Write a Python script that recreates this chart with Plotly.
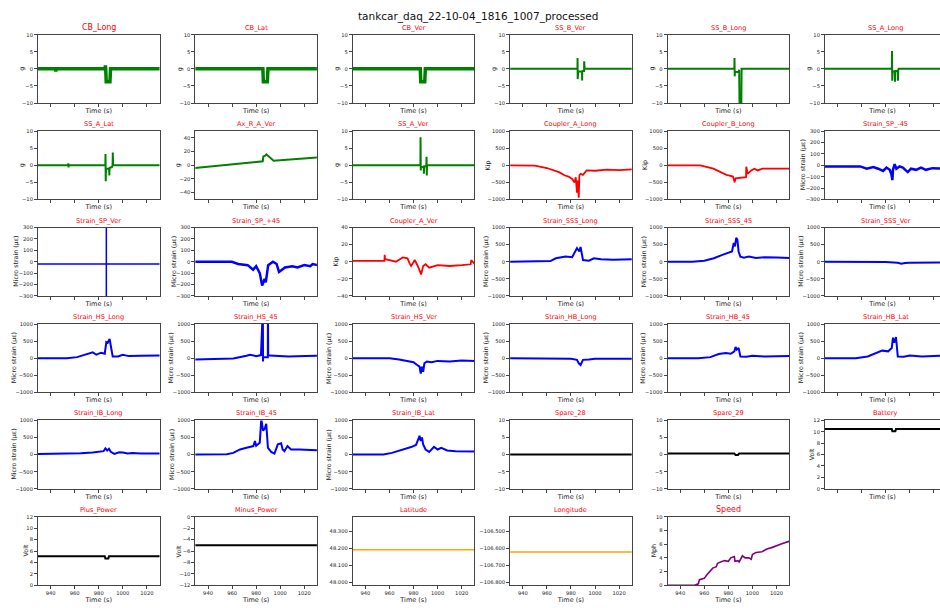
import plotly.graph_objects as go

# ---------------- data (time in s) ----------------
T_CB_LONG = [929, 944, 944.3, 944.6, 985.3, 985.5, 985.8, 986.2, 989.3, 989.8, 1031]
V_CB_LONG = [0, 0, -0.8, 0, 0, 1.0, 0, -3.8, -3.8, 0, 0]
T_CB_LAT = [929, 985.6, 986.0, 989.3, 989.8, 1031]
V_CB_LAT = [0, 0, -3.8, -3.8, 0, 0]
T_CB_VER = [929, 985.6, 986.0, 989.3, 989.8, 1031]
V_CB_VER = [0, 0, -3.8, -3.8, 0, 0]
T_SS_B_VER = [929, 985.4, 985.5, 985.6, 985.7, 986, 989.2, 989.3, 989.4, 989.6, 990.9, 991.0, 991.2, 991.4, 1031]
V_SS_B_VER = [0, 0, 3.2, -3.0, -0.7, -0.8, -0.8, -3.4, -0.5, -0.6, -0.6, 2.2, -0.3, 0, 0]
T_SS_B_LONG = [929, 985.0, 985.1, 985.3, 985.5, 988.5, 989.0, 989.3, 990.8, 991.0, 1031]
V_SS_B_LONG = [0, 0, 3.2, -2.2, -0.8, -1.0, -0.3, -10.5, -10.5, 0, 0]
T_SS_A_LONG = [929, 985.1, 985.2, 985.4, 985.6, 987.5, 987.7, 987.9, 990.0, 990.2, 990.4, 990.8, 1031]
V_SS_A_LONG = [0, 0, 5.2, -3.5, -0.8, -0.8, -3.8, -0.6, -0.6, -3.5, -0.2, 0, 0]

T_SS_A_LAT = [929, 954.6, 954.7, 954.9, 955.0, 985.5, 985.6, 985.8, 986.0, 988.6, 988.8, 989.0, 991.0, 991.5, 991.7, 991.9, 1031]
V_SS_A_LAT = [0, 0, 0.6, -0.6, 0, 0, 3.3, -4.7, -1.0, -1.0, -3.0, -0.8, -0.5, 0, 3.7, 0, 0]
T_AX_R_A_VER = [929, 985.5, 986.0, 987.5, 988.5, 990.0, 994.5, 1031]
V_AX_R_A_VER = [-4, 5.8, 13.0, 14.0, 16.0, 13.5, 6.5, 11.5]
T_SS_A_VER = [929, 985.7, 985.8, 986.0, 986.2, 988.5, 988.6, 988.8, 990.6, 990.8, 991.0, 991.2, 1031]
V_SS_A_VER = [0, 0, 8.2, -1.5, -0.5, -0.5, -2.5, -0.3, -0.3, 2.5, -3.0, 0, 0]
T_COUPLER_A_LONG = [929, 950, 960, 965, 970, 975, 978, 981, 983, 984, 985, 985.5, 986.5, 987, 988, 990, 993, 1000, 1010, 1020, 1031]
V_COUPLER_A_LONG = [0, -10, -80, -150, -200, -300, -330, -400, -500, -350, -800, -450, -950, -300, -250, -280, -150, -160, -130, -140, -120]
T_COUPLER_B_LONG = [929, 956.6, 967.5, 973, 978.4, 981, 983.9, 985.2, 986, 994.7, 994.9, 996.1, 999, 1001.6, 1004.3, 1008.4, 1031]
V_COUPLER_B_LONG = [0, 0, -100, -200, -280, -300, -330, -500, -380, -350, -40, -250, -150, -100, -150, -100, -100]
T_STRAIN_SP_M45 = [929, 958.7, 964.2, 969.6, 973.7, 977.8, 980.6, 983.3, 984.7, 985.5, 986, 987.4, 988.8, 991.5, 994.2, 997, 998.3, 1001, 1005.2, 1009.3, 1013.4, 1018.8, 1022.9, 1031]
V_STRAIN_SP_M45 = [-10, -10, -30, -15, -30, -50, -20, -40, -80, -130, -40, 10, -30, -10, -20, -50, -60, -30, -40, -20, -40, -25, -30, -30]

T_STRAIN_SP_VER = [929, 986.3, 986.3, 986.3, 986.3, 1031]
V_STRAIN_SP_VER = [-20, -20, 400, -400, -20, -20]
T_STRAIN_SP_P45 = [929, 959.8, 965, 973, 977.5, 980, 983, 985, 987, 988, 990, 994, 997, 999, 1004, 1010, 1014.4, 1020, 1025, 1027, 1031]
V_STRAIN_SP_P45 = [0, 0, -20, -30, -70, -40, -100, -210, -150, -180, -30, 0, -20, -90, -50, -40, -50, -30, -40, -20, -30]
T_COUPLER_A_VER = [929, 955.8, 956, 956.3, 960, 965.3, 971, 975, 976.7, 978, 981, 983.5, 986.3, 988, 990, 993, 1000, 1010, 1020, 1027.5, 1028, 1031]
V_COUPLER_A_VER = [1, 1, 8, 3, 2, 0, 5, 4, -2, -5, 2, -5, -15, -5, -3, -7, -4, -5, -4, -3, 2, -3]
T_STRAIN_SSS_LONG = [929, 943, 963, 967.4, 975.6, 981, 985, 987, 988, 990, 995, 999, 1005, 1015, 1031]
V_STRAIN_SSS_LONG = [0, 0, 20, 100, 150, 130, 400, 300, 430, 50, 30, 100, 70, 60, 70]
T_STRAIN_SSS_45 = [929, 950, 960, 968, 975, 980, 983, 984.5, 985.5, 986.5, 987.5, 988.5, 990, 993, 997, 1003, 1010, 1020, 1031]
V_STRAIN_SSS_45 = [0, 0, 30, 100, 200, 250, 300, 550, 450, 700, 650, 300, 150, 120, 150, 110, 130, 120, 110]
T_STRAIN_SSS_VER = [929, 960, 980, 990, 993, 996, 1000, 1031]
V_STRAIN_SSS_VER = [0, 0, -10, -30, -60, -40, -30, -20]

T_STRAIN_HS_LONG = [929, 953.5, 962, 972.6, 975, 978, 982, 985, 986.3, 987.5, 989, 991.6, 996, 1000, 1005, 1015, 1031]
V_STRAIN_HS_LONG = [0, 0, 30, 150, 170, 100, 160, 130, 470, 450, 560, 50, 50, 100, 60, 70, 80]
T_STRAIN_HS_45 = [929, 961, 972, 974.8, 980, 984, 985.6, 985.7, 985.8, 987.5, 989.7, 989.8, 990, 991, 999, 1007, 1021, 1031]
V_STRAIN_HS_45 = [-40, -10, 70, 100, 60, 90, 1500, -100, 30, 30, 30, 1500, 80, 80, 70, 50, 60, 70]
T_STRAIN_HS_VER = [929, 960, 968, 975, 980, 983, 985, 986, 987, 988, 989, 991, 995, 1000, 1010, 1020, 1031]
V_STRAIN_HS_VER = [0, 0, -40, -80, -120, -200, -250, -450, -250, -400, -150, -100, -120, -80, -100, -70, -80]
T_STRAIN_HB_LONG = [929, 970, 980, 985, 986.5, 988, 990, 995, 1000, 1031]
V_STRAIN_HB_LONG = [0, -10, -20, -50, -150, -200, -50, -40, -20, -20]
T_STRAIN_HB_45 = [929, 955, 965, 972, 978, 982, 985, 986, 987, 988.5, 990, 995, 1000, 1010, 1031]
V_STRAIN_HB_45 = [0, 0, 30, 120, 150, 130, 200, 330, 250, 300, 50, 40, 70, 50, 60]
T_STRAIN_HB_LAT = [929, 955, 965, 972, 977, 982, 985, 986, 987, 988.5, 990, 995, 1000, 1010, 1020, 1031]
V_STRAIN_HB_LAT = [0, 0, 50, 150, 220, 200, 300, 600, 450, 620, 50, 40, 80, 50, 70, 80]

T_STRAIN_IB_LONG = [929, 950, 965, 975, 982, 984, 985.5, 987, 988.5, 990, 993, 997, 1000, 1004, 1008, 1015, 1031]
V_STRAIN_IB_LONG = [20, 20, 40, 60, 80, 100, 180, 120, 170, 80, 20, 70, 60, 30, 50, 30, 30]
T_STRAIN_IB_45 = [929, 955.6, 961, 966.6, 972, 977.7, 979, 980, 983, 984.3, 985.7, 987, 988.4, 989.8, 992.5, 995.2, 998, 1000.8, 1002, 1003.5, 1006, 1009, 1016, 1027, 1031]
V_STRAIN_IB_45 = [0, 10, 50, 150, 200, 250, 400, 260, 350, 1050, 700, 750, 900, 200, 80, 30, 300, 330, 150, 100, 250, 150, 150, 150, 130]
T_STRAIN_IB_LAT = [929, 955, 962, 970, 978, 982, 985, 986, 987, 988, 990, 993, 997, 1000, 1003, 1008, 1015, 1031]
V_STRAIN_IB_LAT = [0, 0, 50, 130, 220, 280, 550, 400, 500, 300, 150, 80, 230, 150, 200, 120, 100, 90]
T_SPARE_28 = [929, 1031]
V_SPARE_28 = [0, 0]
T_SPARE_29 = [929, 985, 986, 988, 989, 1031]
V_SPARE_29 = [0.3, 0.3, -0.1, -0.1, 0.3, 0.3]
T_BATTERY = [929, 985, 985.5, 988, 988.5, 1031]
V_BATTERY = [10.5, 10.5, 10.1, 10.1, 10.5, 10.5]

T_PLUS_POWER = [929, 985, 985.5, 988, 988.5, 1031]
V_PLUS_POWER = [5.1, 5.1, 4.7, 4.7, 5.1, 5.1]
T_MINUS_POWER = [929, 1031]
V_MINUS_POWER = [-5.0, -5.0]
T_LATITUDE = [929, 1031]
V_LATITUDE = [48.19, 48.19]
T_LONGITUDE = [929, 1031]
V_LONGITUDE = [-106.622, -106.622]
T_SPEED = [929, 952, 955, 956, 960, 962, 967, 970, 971, 976.7, 980, 982, 985, 985.5, 988, 989, 991.7, 994, 997, 999, 1000, 1003, 1008, 1012, 1016, 1020, 1025, 1031]
V_SPEED = [0, 0, 0.2, 0.8, 1.0, 1.5, 2.5, 2.7, 3.2, 3.6, 3.5, 4.0, 4.2, 3.5, 3.6, 3.4, 4.3, 4.0, 4.0, 3.8, 4.5, 4.8, 4.9, 5.3, 5.5, 5.8, 6.1, 6.45]

X_TICKS = [940, 960, 980, 1000, 1020]
G_TICKS = [-10, -5, 0, 5, 10]
AX_TICKS = [-40, -20, 0, 20, 40]
KIP_TICKS = [-1000, -500, 0, 500, 1000]
SP_TICKS = [-300, -200, -100, 0, 100, 200, 300]
KIPV_TICKS = [-40, -20, 0, 20, 40]
STRAIN_TICKS = [-1000, -500, 0, 500, 1000]
VOLT_TICKS = [0, 2, 4, 6, 8, 10, 12]
MVOLT_TICKS = [-12, -10, -8, -6, -4, -2, 0]
LAT_TICKS = [48.0, 48.1, 48.2, 48.3]
LON_TICKS = [-106.8, -106.7, -106.6, -106.5]
SPEED_TICKS = [0, 2, 4, 6, 8, 10]

US = "Micro strain (\u03bc\u03b5)"
GREEN, RED, BLUE, BLACK, ORANGE, PURPLE = "#008000", "#ff0000", "#0000ff", "#000000", "#ffa500", "#800080"

# name, y label, color, T, V, y range, ticks, line width, y-label offset (px left of axis)
panels = [
    ("CB_Long", "g", GREEN, T_CB_LONG, V_CB_LONG, [-10, 10], G_TICKS, 3.5, 16),
    ("CB_Lat", "g", GREEN, T_CB_LAT, V_CB_LAT, [-10, 10], G_TICKS, 3.5, 16),
    ("CB_Ver", "g", GREEN, T_CB_VER, V_CB_VER, [-10, 10], G_TICKS, 3.5, 16),
    ("SS_B_Ver", "g", GREEN, T_SS_B_VER, V_SS_B_VER, [-10, 10], G_TICKS, 2, 16),
    ("SS_B_Long", "g", GREEN, T_SS_B_LONG, V_SS_B_LONG, [-10, 10], G_TICKS, 2, 16),
    ("SS_A_Long", "g", GREEN, T_SS_A_LONG, V_SS_A_LONG, [-10, 10], G_TICKS, 2, 16),
    ("SS_A_Lat", "g", GREEN, T_SS_A_LAT, V_SS_A_LAT, [-10, 10], G_TICKS, 2, 16),
    ("Ax_R_A_Ver", "g", GREEN, T_AX_R_A_VER, V_AX_R_A_VER, [-50, 50], AX_TICKS, 2, 17.5),
    ("SS_A_Ver", "g", GREEN, T_SS_A_VER, V_SS_A_VER, [-10, 10], G_TICKS, 2, 16),
    ("Coupler_A_Long", "Kip", RED, T_COUPLER_A_LONG, V_COUPLER_A_LONG, [-1000, 1000], KIP_TICKS, 1.8, 22),
    ("Coupler_B_Long", "Kip", RED, T_COUPLER_B_LONG, V_COUPLER_B_LONG, [-1000, 1000], KIP_TICKS, 1.8, 22),
    ("Strain_SP_-45", US, BLUE, T_STRAIN_SP_M45, V_STRAIN_SP_M45, [-300, 300], SP_TICKS, 2.5, 22),
    ("Strain_SP_Ver", US, BLUE, T_STRAIN_SP_VER, V_STRAIN_SP_VER, [-300, 300], SP_TICKS, 1.5, 22),
    ("Strain_SP_+45", US, BLUE, T_STRAIN_SP_P45, V_STRAIN_SP_P45, [-300, 300], SP_TICKS, 2.5, 22),
    ("Coupler_A_Ver", "Kip", RED, T_COUPLER_A_VER, V_COUPLER_A_VER, [-40, 40], KIPV_TICKS, 1.8, 17),
    ("Strain_SSS_Long", US, BLUE, T_STRAIN_SSS_LONG, V_STRAIN_SSS_LONG, [-1000, 1000], STRAIN_TICKS, 2, 24),
    ("Strain_SSS_45", US, BLUE, T_STRAIN_SSS_45, V_STRAIN_SSS_45, [-1000, 1000], STRAIN_TICKS, 2, 24),
    ("Strain_SSS_Ver", US, BLUE, T_STRAIN_SSS_VER, V_STRAIN_SSS_VER, [-1000, 1000], STRAIN_TICKS, 2, 24),
    ("Strain_HS_Long", US, BLUE, T_STRAIN_HS_LONG, V_STRAIN_HS_LONG, [-1000, 1000], STRAIN_TICKS, 2, 24),
    ("Strain_HS_45", US, BLUE, T_STRAIN_HS_45, V_STRAIN_HS_45, [-1000, 1000], STRAIN_TICKS, 2, 24),
    ("Strain_HS_Ver", US, BLUE, T_STRAIN_HS_VER, V_STRAIN_HS_VER, [-1000, 1000], STRAIN_TICKS, 2, 24),
    ("Strain_HB_Long", US, BLUE, T_STRAIN_HB_LONG, V_STRAIN_HB_LONG, [-1000, 1000], STRAIN_TICKS, 2, 24),
    ("Strain_HB_45", US, BLUE, T_STRAIN_HB_45, V_STRAIN_HB_45, [-1000, 1000], STRAIN_TICKS, 2, 24),
    ("Strain_HB_Lat", US, BLUE, T_STRAIN_HB_LAT, V_STRAIN_HB_LAT, [-1000, 1000], STRAIN_TICKS, 2, 24),
    ("Strain_IB_Long", US, BLUE, T_STRAIN_IB_LONG, V_STRAIN_IB_LONG, [-1000, 1000], STRAIN_TICKS, 2, 24),
    ("Strain_IB_45", US, BLUE, T_STRAIN_IB_45, V_STRAIN_IB_45, [-1000, 1000], STRAIN_TICKS, 2, 24),
    ("Strain_IB_Lat", US, BLUE, T_STRAIN_IB_LAT, V_STRAIN_IB_LAT, [-1000, 1000], STRAIN_TICKS, 2, 24),
    ("Spare_28", "", BLACK, T_SPARE_28, V_SPARE_28, [-10, 10], G_TICKS, 2, 16),
    ("Spare_29", "", BLACK, T_SPARE_29, V_SPARE_29, [-10, 10], G_TICKS, 2, 16),
    ("Battery", "Volt", BLACK, T_BATTERY, V_BATTERY, [0, 12], VOLT_TICKS, 2, 13.3),
    ("Plus_Power", "Volt", BLACK, T_PLUS_POWER, V_PLUS_POWER, [0, 12], VOLT_TICKS, 2, 12.5),
    ("Minus_Power", "Volt", BLACK, T_MINUS_POWER, V_MINUS_POWER, [-12, 0], MVOLT_TICKS, 2, 17),
    ("Latitude", "", ORANGE, T_LATITUDE, V_LATITUDE, [47.983, 48.383], LAT_TICKS, 1.5, 20),
    ("Longitude", "", ORANGE, T_LONGITUDE, V_LONGITUDE, [-106.817, -106.417], LON_TICKS, 1.5, 30),
    ("Speed", "Mph", PURPLE, T_SPEED, V_SPEED, [0, 10], SPEED_TICKS, 1.6, 13.3),
]

W, H = 940, 608
LEFT0, COLSTEP, PW = 38, 157.4, 121.5
TOP0, ROWSTEP, PH = 32, 97.4, 69
X0, X1 = 929.5, 1030.5
FONT = "DejaVu Sans"
SPINE = "#444"
TXT = "#222222"

fig = go.Figure()
annotations = []
layout = {}
for i, (name, ylab, color, T, V, yr, yt, lw, yoff) in enumerate(panels):
    n = i + 1
    r, c = divmod(i, 6)
    left = LEFT0 + COLSTEP * c
    right = left + PW
    top = TOP0 + ROWSTEP * r
    bottom = top + PH
    xr = [X0, X1]
    clipped = right > W
    if clipped:
        xr = [X0, X0 + (X1 - X0) * (W - left) / PW]
        right = W
    xd = [left / W, right / W]
    yd = [1 - bottom / H, 1 - top / H]
    fig.add_trace(go.Scatter(x=T, y=V, mode="lines", line=dict(color=color, width=lw),
                             xaxis=f"x{n}", yaxis=f"y{n}", hoverinfo="skip", showlegend=False))
    fmt = ".3f" if name in ("Latitude", "Longitude") else None
    layout[f"xaxis{n}"] = dict(
        domain=xd, range=xr, anchor=f"y{n}", showgrid=False, zeroline=False,
        showline=True, linecolor=SPINE, linewidth=1, mirror=True,
        ticks="outside", ticklen=3, tickcolor=SPINE, tickvals=X_TICKS,
        showticklabels=(r == 5), tickfont=dict(size=5.2, color=TXT, family=FONT),
        title=dict(text="Time (s)", font=dict(size=6.5, color=TXT, family=FONT), standoff=2),
    )
    layout[f"yaxis{n}"] = dict(
        domain=yd, range=yr, anchor=f"x{n}", showgrid=False, zeroline=False,
        showline=True, linecolor=SPINE, linewidth=1, mirror=not clipped,
        ticks="outside", ticklen=3, tickcolor=SPINE, tickvals=yt, tickformat=fmt,
        tickfont=dict(size=5.2, color=TXT, family=FONT),
    )
    if ylab:
        annotations.append(dict(
            text=ylab, x=(left - yoff) / W, y=1 - (top + PH / 2) / H, xref="paper", yref="paper",
            xanchor="center", yanchor="middle", textangle=-90, showarrow=False,
            font=dict(size=6.3, color=TXT, family=FONT),
        ))
    tsize = 8 if name in ("CB_Long", "Speed") else 6.6
    cx = (left + left + PW) / 2
    annotations.append(dict(
        text=name, x=cx / W, y=1 - top / H, xref="paper", yref="paper",
        xanchor="center", yanchor="bottom", yshift=1, showarrow=False,
        font=dict(size=tsize, color="red", family=FONT),
    ))

annotations.append(dict(
    text="tankcar_daq_22-10-04_1816_1007_processed", x=477.5 / W, y=1 - 14 / H,
    xref="paper", yref="paper", xanchor="center", yanchor="middle", showarrow=False,
    font=dict(size=10.5, color="#111", family=FONT),
))

fig.update_layout(
    width=W, height=H, margin=dict(l=0, r=0, t=0, b=0),
    paper_bgcolor="white", plot_bgcolor="white", showlegend=False,
    font=dict(family=FONT), annotations=annotations, **layout,
)

fig.write_html("out.html")
